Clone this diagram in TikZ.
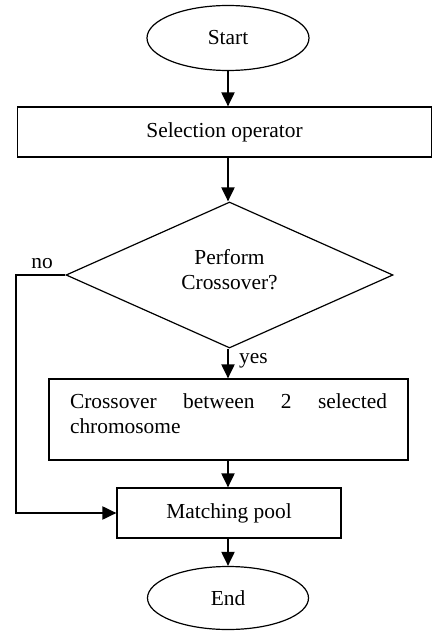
\documentclass[tikz,border=0pt]{standalone}
\usepackage{fontspec}
\setmainfont{Liberation Serif}
\usetikzlibrary{shapes.geometric,arrows.meta}
\begin{document}
\begin{tikzpicture}[x=1pt,y=-1pt,
  every node/.style={font=\fontsize{21.4}{25}\selectfont, inner sep=0pt},
  shp/.style={draw, line width=1.2pt},
  term/.style={shp, ellipse},
  proc/.style={shp, rectangle},
  dec/.style={shp, diamond},
  flow/.style={line width=2pt, -{Triangle[length=14pt,width=13pt]}},
  lbl/.style={font=\fontsize{21.4}{25}\selectfont}
]
\useasboundingbox (0,0) rectangle (433,631);
\node[term, minimum width=162pt, minimum height=65pt] (start) at (228,38) {Start};
\node[proc, minimum width=414pt, minimum height=50pt] (sel) at (224.5,132) {Selection operator};
\node[dec, minimum width=327pt, minimum height=146pt] (dia) at (229.5,275) {};
\node[align=center] (dtext) at (229.5,270) {Perform\\Crossover?};
\node[proc, minimum width=359pt, minimum height=81pt] (cross) at (228.5,419.5) {};
\node[text width=317pt, align=justify] (ctext) at (228.5,414) {\hyphenpenalty=10000 Crossover between 2 selected\linebreak chromosome};
\node[proc, minimum width=224pt, minimum height=50pt] (pool) at (229,513) {Matching pool};
\node[term, minimum width=161pt, minimum height=63pt] (end) at (228,598) {End};
\coordinate (nocorner) at (16,275);
\node[lbl, anchor=west] (yes) at (239,361) {yes};
\node[lbl] (no) at (42,264) {no};
\draw[flow] (start.south) -- (start.south |- sel.north);
\draw[flow] (start.south |- sel.south) -- (start.south |- dia.north);
\draw[flow] (start.south |- dia.south) -- (start.south |- cross.north);
\draw[flow] (start.south |- cross.south) -- (start.south |- pool.north);
\draw[flow] (start.south |- pool.south) -- (end.north);
\draw[flow] (dia.west) -- (nocorner) |- (pool.west);
\end{tikzpicture}
\end{document}
